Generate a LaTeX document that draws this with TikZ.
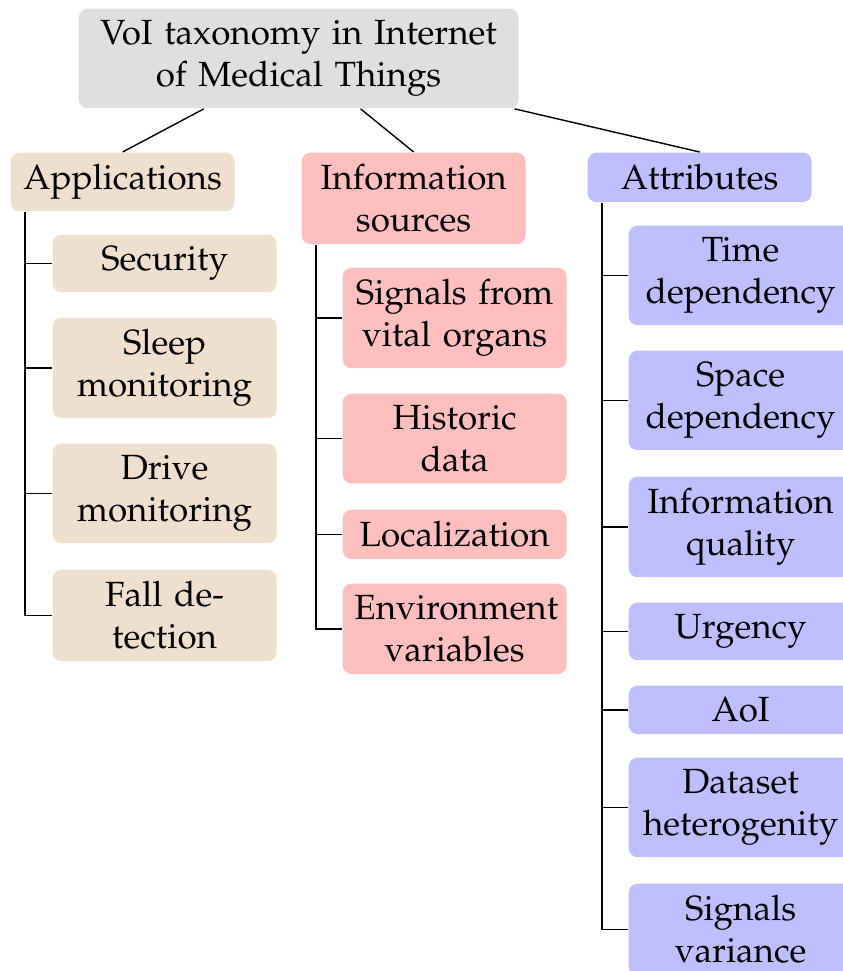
\documentclass[tikz,border=0pt]{standalone}
\usepackage[T1]{fontenc}
\usepackage{mathpazo}
\begin{document}
\begin{tikzpicture}[x=0.285714pt,y=-0.285714pt,
  box/.style={rounded corners=2.5pt, inner sep=3.333pt, align=center,
    text width=57.3pt, anchor=north west},
  rootbox/.style={box, text width=119pt, fill=gray!25},
  appbox/.style={box, fill=brown!25},
  infobox/.style={box, fill=red!25},
  attrbox/.style={box, fill=blue!25},
  link/.style={draw=black, line width=0.4pt},
  folder/.style={link}
]
\useasboundingbox (0,0) rectangle (843,971);
\clip (0,0) rectangle (843,971);

% root
\node[rootbox] (root) at (78,8) {VoI taxonomy in Internet of Medical Things};

% first level
\node[appbox]  (app)  at (10,152)  {Applications};
\node[infobox] (info) at (301,152) {Information sources};
\node[attrbox] (attr) at (587,152) {Attributes};

% applications
\node[appbox] (sec)   at (52,234) {Security};
\node[appbox] (sleep) at (52,317) {Sleep monitoring};
\node[appbox] (drive) at (52,443) {Drive monitoring};
\node[appbox] (fall)  at (52,569) {Fall detection};

% information sources
\node[infobox] (vital) at (342,267) {Signals from vital organs};
\node[infobox] (hist)  at (342,393) {Historic data};
\node[infobox] (loc)   at (342,509) {Localization};
\node[infobox] (env)   at (342,583) {Environment variables};

% attributes
\node[attrbox] (time)  at (628,225) {Time dependency};
\node[attrbox] (space) at (628,350) {Space dependency};
\node[attrbox] (qual)  at (628,476) {Information quality};
\node[attrbox] (urg)   at (628,602) {Urgency};
\node[attrbox] (aoi)   at (628,685) {AoI};
\node[attrbox] (data)  at (628,757) {Dataset heterogenity};
\node[attrbox] (var)   at (628,883) {Signals variance};

% root to first level
\draw[link] (root) -- (app.north);
\draw[link] (root) -- (info.north);
\draw[link] (root) -- (attr.north);

% folder-style branches, running down 15 units in from each parent's left edge
\foreach \c in {sec,sleep,drive,fall}
  \draw[folder] ([xshift=4.2857pt]app.south west) |- (\c.west);
\foreach \c in {vital,hist,loc,env}
  \draw[folder] ([xshift=4.2857pt]info.south west) |- (\c.west);
\foreach \c in {time,space,qual,urg,aoi,data,var}
  \draw[folder] ([xshift=4.2857pt]attr.south west) |- (\c.west);
\end{tikzpicture}
\end{document}
